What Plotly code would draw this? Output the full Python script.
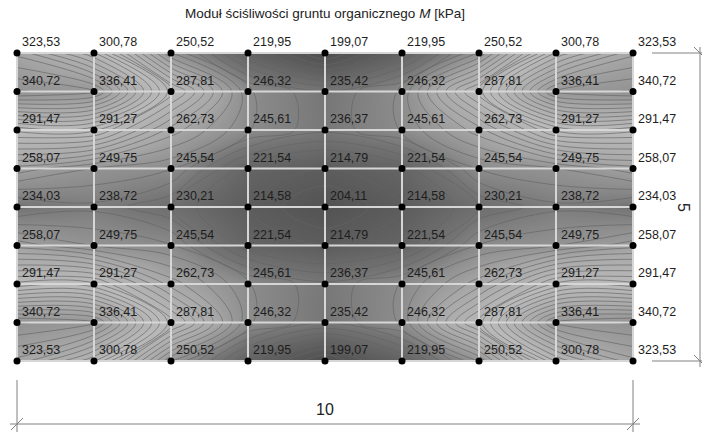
import plotly.graph_objects as go

# Compressibility modulus of organic soil, node values [kPa], rows from top to bottom
title_text = "Moduł ściśliwości gruntu organicznego <i>M</i> [kPa]"
span_x = 10          # plan length
span_y = 5           # plan width
dim_x_label = "10"
dim_y_label = "5"

row_0 = [323.53, 300.78, 250.52, 219.95, 199.07, 219.95, 250.52, 300.78, 323.53]
row_1 = [340.72, 336.41, 287.81, 246.32, 235.42, 246.32, 287.81, 336.41, 340.72]
row_2 = [291.47, 291.27, 262.73, 245.61, 236.37, 245.61, 262.73, 291.27, 291.47]
row_3 = [258.07, 249.75, 245.54, 221.54, 214.79, 221.54, 245.54, 249.75, 258.07]
row_4 = [234.03, 238.72, 230.21, 214.58, 204.11, 214.58, 230.21, 238.72, 234.03]
row_5 = [258.07, 249.75, 245.54, 221.54, 214.79, 221.54, 245.54, 249.75, 258.07]
row_6 = [291.47, 291.27, 262.73, 245.61, 236.37, 245.61, 262.73, 291.27, 291.47]
row_7 = [340.72, 336.41, 287.81, 246.32, 235.42, 246.32, 287.81, 336.41, 340.72]
row_8 = [323.53, 300.78, 250.52, 219.95, 199.07, 219.95, 250.52, 300.78, 323.53]

rows_top_down = [row_0, row_1, row_2, row_3, row_4, row_5, row_6, row_7, row_8]
n_cols = len(row_0)
n_rows = len(rows_top_down)

xs = [span_x * i / (n_cols - 1) for i in range(n_cols)]
ys_top_down = [span_y * (n_rows - 1 - j) / (n_rows - 1) for j in range(n_rows)]

# Contour input with y ascending
ys_up = ys_top_down[::-1]
z_up = rows_top_down[::-1]

PX = 61.6  # pixels per metre on both axes
W, H = 702, 432
x0_px, y0_px = 17, 361  # pixel position of the plan origin (bottom-left node)


def px_x(p):
    return (p - x0_px) / PX


def px_y(p):
    return (y0_px - p) / PX


def fmt(v):
    return f"{v:.2f}".replace(".", ",")


fig = go.Figure()

fig.add_trace(go.Contour(
    x=xs, y=ys_up, z=z_up,
    colorscale=[
        [0.00, "#4e4e4e"],
        [0.12, "#5e5e5e"],
        [0.25, "#747474"],
        [0.33, "#8c8c8c"],
        [0.45, "#a8a8a8"],
        [0.65, "#bababa"],
        [0.85, "#a8a8a8"],
        [1.00, "#929292"],
    ],
    zmin=199, zmax=341,
    contours=dict(coloring="heatmap", start=200, end=340, size=5, showlines=True),
    line=dict(color="rgba(100,100,100,0.65)", width=1, smoothing=1),
    showscale=False, hoverinfo="skip",
))

# Cell borders drawn as one broken polyline
grid_x, grid_y = [], []
for x in xs:
    grid_x += [x, x, None]
    grid_y += [0, span_y, None]
for y in ys_up:
    grid_x += [0, span_x, None]
    grid_y += [y, y, None]
fig.add_trace(go.Scatter(
    x=grid_x, y=grid_y, mode="lines",
    line=dict(color="#d6d6d6", width=2),
    hoverinfo="skip", showlegend=False,
))

shapes = []
# Dimension lines
dim_col = "#808080"
dim_w = 1
tick = 6 / PX
# horizontal dimension (length)
y_dim = px_y(424)
shapes.append(dict(type="line", x0=px_x(10), x1=px_x(640), y0=y_dim, y1=y_dim,
                   line=dict(color=dim_col, width=dim_w)))
for xe in (0, span_x):
    shapes.append(dict(type="line", x0=xe, x1=xe, y0=px_y(380), y1=px_y(432),
                       line=dict(color=dim_col, width=dim_w)))
    shapes.append(dict(type="line", x0=xe - tick, x1=xe + tick, y0=y_dim - tick, y1=y_dim + tick,
                       line=dict(color=dim_col, width=dim_w)))
# vertical dimension (width)
x_dim = px_x(700)
shapes.append(dict(type="line", x0=x_dim, x1=x_dim, y0=px_y(47), y1=px_y(367),
                   line=dict(color=dim_col, width=dim_w)))
for ye in (0, span_y):
    shapes.append(dict(type="line", x0=px_x(652), x1=px_x(702), y0=ye, y1=ye,
                       line=dict(color=dim_col, width=dim_w)))
    shapes.append(dict(type="line", x0=x_dim - tick, x1=x_dim + tick, y0=ye + tick, y1=ye - tick,
                       line=dict(color=dim_col, width=dim_w)))

# Nodes
node_x = [x for _ in ys_top_down for x in xs]
node_y = [y for y in ys_top_down for _ in xs]
fig.add_trace(go.Scatter(
    x=node_x, y=node_y, mode="markers",
    marker=dict(color="black", size=7),
    hoverinfo="skip", showlegend=False,
))

annotations = []
for row, y in zip(rows_top_down, ys_top_down):
    for v, x in zip(row, xs):
        annotations.append(dict(
            x=x, y=y, text=fmt(v), showarrow=False,
            xanchor="left", yanchor="middle", xshift=3, yshift=11,
            font=dict(family="Liberation Sans", size=12.5, color="#1e1e1e"),
        ))

annotations.append(dict(
    x=span_x / 2, y=px_y(13), text=title_text, showarrow=False,
    xanchor="center", yanchor="middle",
    font=dict(family="Liberation Sans", size=13.5, color="#222222"),
))
annotations.append(dict(
    x=span_x / 2, y=px_y(409), text=dim_x_label, showarrow=False,
    xanchor="center", yanchor="middle",
    font=dict(family="Liberation Sans", size=16, color="#222222"),
))
annotations.append(dict(
    x=px_x(684), y=span_y / 2, text=dim_y_label, showarrow=False, textangle=90,
    xanchor="center", yanchor="middle",
    font=dict(family="Liberation Sans", size=16, color="#222222"),
))

fig.update_layout(
    width=W, height=H,
    margin=dict(l=0, r=0, t=0, b=0),
    paper_bgcolor="white", plot_bgcolor="white",
    showlegend=False,
    shapes=shapes,
    annotations=annotations,
    xaxis=dict(range=[px_x(0), px_x(W)], visible=False, fixedrange=True),
    yaxis=dict(range=[px_y(H), px_y(0)], visible=False, fixedrange=True),
)

fig.write_html("out.html")
